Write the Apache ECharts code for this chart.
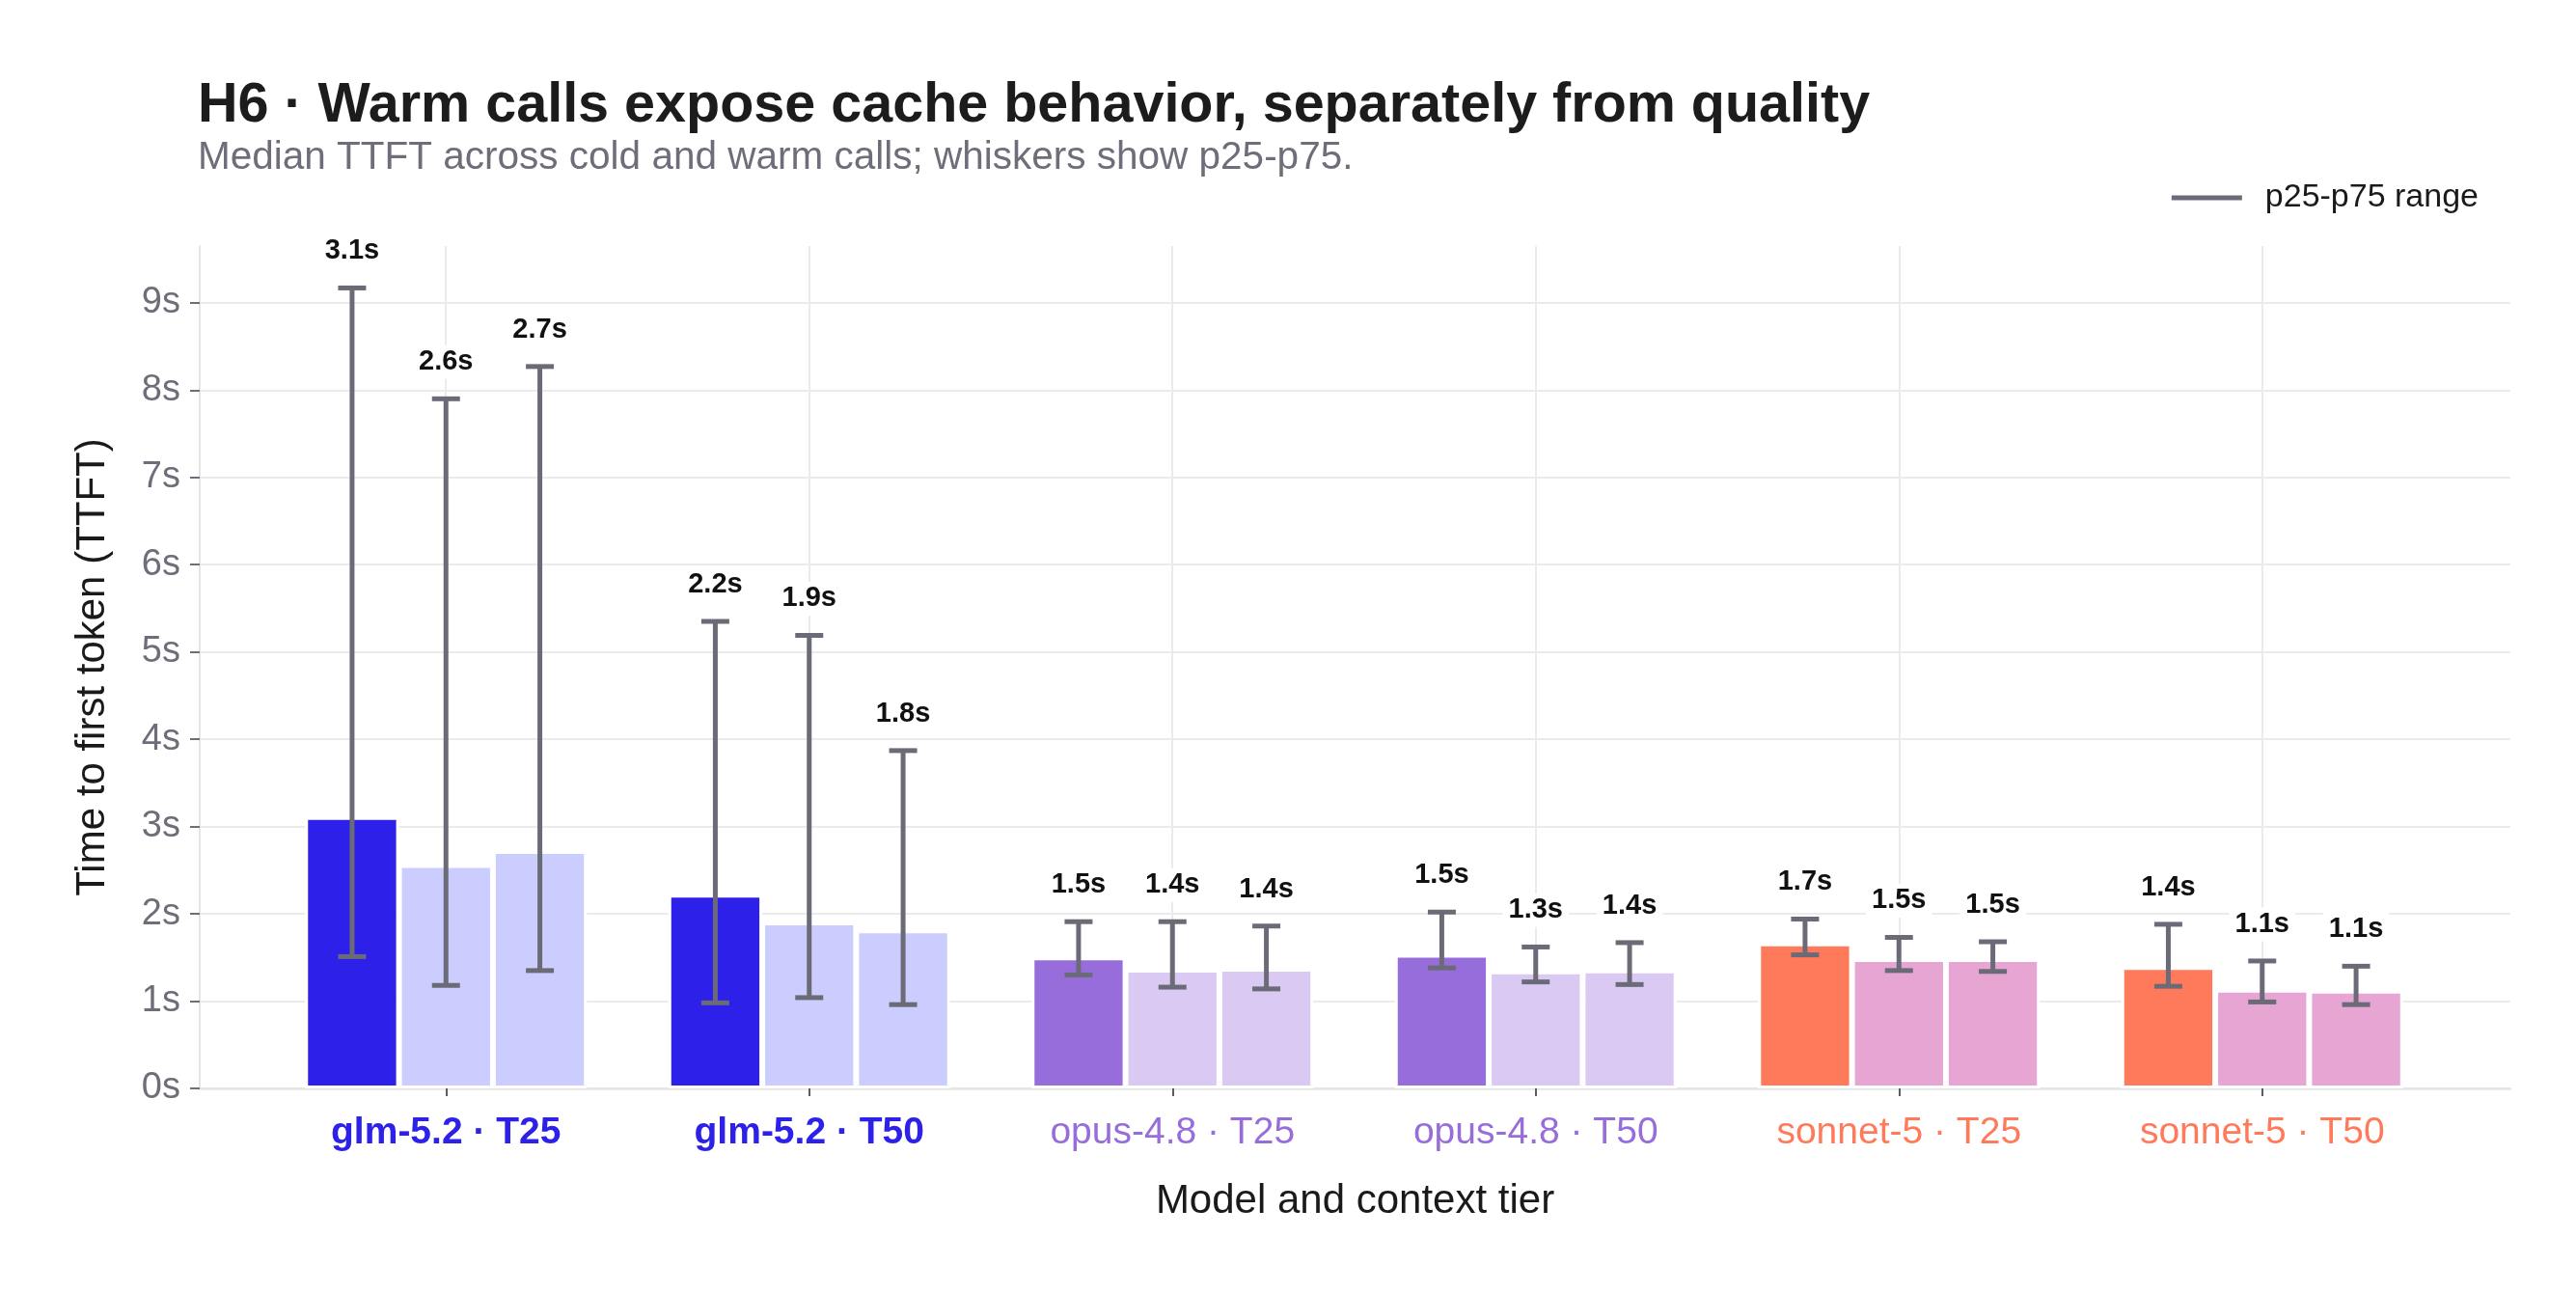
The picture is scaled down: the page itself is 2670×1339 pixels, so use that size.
<!DOCTYPE html>
<html lang="en">
<head>
  <meta charset="UTF-8">
  <title>H6 · Warm calls expose cache behavior</title>
  <script src="https://cdn.jsdelivr.net/npm/echarts@6.0.0/dist/echarts.min.js"></script>
  <style>
    html, body { margin: 0; padding: 0; background: #fff; }
    #chart { width: 2670px; height: 1339px; }
  </style>
</head>
<body>
  <div id="chart"></div>
  <script>
    // categories: model · context tier
    var categories = ['glm-5.2 · T25', 'glm-5.2 · T50', 'opus-4.8 · T25', 'opus-4.8 · T50', 'sonnet-5 · T25', 'sonnet-5 · T50']
    var categoryModel = ['glm', 'glm', 'opus', 'opus', 'sonnet', 'sonnet']

    // median TTFT (s) per call: cold, warm 1, warm 2
    var coldMedian = [3.11, 2.22, 1.50, 1.53, 1.66, 1.39]
    var warm1Median = [2.56, 1.90, 1.36, 1.34, 1.48, 1.13]
    var warm2Median = [2.72, 1.81, 1.37, 1.352, 1.48, 1.12]

    // p25 / p75 whiskers
    var coldP25 = [1.51, 0.98, 1.30, 1.38, 1.53, 1.17]
    var coldP75 = [9.17, 5.35, 1.91, 2.02, 1.94, 1.88]
    var warm1P25 = [1.18, 1.04, 1.16, 1.22, 1.35, 0.99]
    var warm1P75 = [7.90, 5.19, 1.91, 1.62, 1.73, 1.46]
    var warm2P25 = [1.35, 0.96, 1.14, 1.19, 1.34, 0.96]
    var warm2P75 = [8.27, 3.87, 1.86, 1.67, 1.68, 1.40]

    var yTicks = [0, 1, 2, 3, 4, 5, 6, 7, 8, 9]

    var modelColors = {
      glm: { cold: '#2d20e9', warm: '#cacdfd' },
      opus: { cold: '#976ddb', warm: '#dacaf3' },
      sonnet: { cold: '#ff7a5a', warm: '#e6a5d3' }
    }

    var FONT = '"Liberation Sans", Arial, Helvetica, sans-serif'
    var GRAY = '#6e6e7a'
    var WHISKER = '#6b6b77'
    var GRID_LINE = '#ebebeb'
    var BAR_FRAC = 0.2585
    var RANGE_NAME = 'p25-p75 range'

    var medians = [coldMedian, warm1Median, warm2Median]
    var p25s = [coldP25, warm1P25, warm2P25]
    var p75s = [coldP75, warm1P75, warm2P75]

    function barData(values, kind) {
      return values.map(function (v, i) {
        return { value: v, itemStyle: { color: modelColors[categoryModel[i]][kind] } }
      })
    }

    // [category, slot, p25, p75, median]
    var whiskerData = []
    for (var s = 0; s < 3; s++) {
      for (var i = 0; i < categories.length; i++) {
        whiskerData.push([i, s, p25s[s][i], p75s[s][i], medians[s][i]])
      }
    }

    function renderWhisker(params, api) {
      var band = api.size([1, 0])[0]
      var cat = api.value(0)
      var x = api.coord([cat, 0])[0] + (api.value(1) - 1) * band * BAR_FRAC
      var lo = api.coord([cat, api.value(2)])[1]
      var hi = api.coord([cat, api.value(3)])[1]
      var capHalf = 14.5
      var lineStyle = { stroke: WHISKER, lineWidth: 5 }
      return {
        type: 'group',
        children: [
          { type: 'line', shape: { x1: x, y1: lo, x2: x, y2: hi }, style: lineStyle },
          { type: 'line', shape: { x1: x - capHalf, y1: hi, x2: x + capHalf, y2: hi }, style: lineStyle },
          { type: 'line', shape: { x1: x - capHalf, y1: lo, x2: x + capHalf, y2: lo }, style: lineStyle },
          {
            type: 'text',
            z2: 10,
            style: {
              text: api.value(4).toFixed(1) + 's',
              x: x,
              y: hi - 38,
              align: 'center',
              verticalAlign: 'middle',
              font: 'bold 29px ' + FONT,
              fill: '#111111',
              backgroundColor: '#ffffff',
              padding: [3, 6]
            }
          }
        ]
      }
    }

    var mCharts = echarts.init(document.getElementById('chart'), null, { renderer: 'canvas' })

    var option = {
      backgroundColor: '#ffffff',
      animation: false,
      textStyle: { fontFamily: FONT },
      title: {
        text: 'H6 · Warm calls expose cache behavior, separately from quality',
        subtext: 'Median TTFT across cold and warm calls; whiskers show p25-p75.',
        left: 205,
        top: 80,
        itemGap: 3,
        padding: 0,
        textStyle: { fontFamily: FONT, fontSize: 57.5, fontWeight: 'bold', color: '#1c1c1c', lineHeight: 60 },
        subtextStyle: { fontFamily: FONT, fontSize: 40.5, color: GRAY, lineHeight: 42 }
      },
      legend: {
        data: [{ name: RANGE_NAME, icon: 'rect' }],
        right: 101,
        top: 188,
        padding: 0,
        itemWidth: 73,
        itemHeight: 5,
        selectedMode: false,
        textStyle: { fontFamily: FONT, fontSize: 34, color: '#1a1a1a', padding: [0, 0, 0, 19] }
      },
      grid: [
        { left: 207, right: 68, top: 255, bottom: 211 }, // frame, y axis, horizontal grid
        { left: 274, right: 137, top: 255, bottom: 211 }, // bars
        { left: 462, right: 325, top: 255, bottom: 211 } // vertical grid at category centers
      ],
      xAxis: [
        {
          gridIndex: 0,
          type: 'value',
          min: 0,
          max: 1,
          axisLine: { show: true, lineStyle: { color: '#e5e5e5', width: 2.5 } },
          axisTick: { show: false },
          axisLabel: { show: false },
          splitLine: { show: false },
          name: 'Model and context tier',
          nameLocation: 'middle',
          nameGap: 96,
          nameTextStyle: { fontFamily: FONT, fontSize: 42, color: '#1a1a1a', lineHeight: 42 }
        },
        {
          gridIndex: 1,
          type: 'category',
          data: categories,
          axisLine: { show: false },
          axisTick: { show: true, alignWithLabel: true, length: 8, lineStyle: { color: '#5c5b67', width: 2 } },
          axisLabel: {
            interval: 0,
            margin: 27,
            formatter: function (v, i) {
              return '{' + categoryModel[i] + '|' + v + '}'
            },
            rich: {
              glm: { fontFamily: FONT, fontSize: 39, lineHeight: 39, fontWeight: 'bold', color: modelColors.glm.cold },
              opus: { fontFamily: FONT, fontSize: 39, lineHeight: 39, color: modelColors.opus.cold },
              sonnet: { fontFamily: FONT, fontSize: 39, lineHeight: 39, color: modelColors.sonnet.cold }
            }
          },
          splitLine: { show: false }
        },
        {
          gridIndex: 2,
          type: 'category',
          boundaryGap: false,
          data: categories,
          axisLine: { show: false },
          axisTick: { show: false },
          axisLabel: { show: false, interval: 0 },
          splitLine: { show: true, interval: 0, lineStyle: { color: GRID_LINE, width: 2 } }
        }
      ],
      yAxis: [
        {
          gridIndex: 0,
          type: 'value',
          min: 0,
          max: 9.65,
          interval: 1,
          axisLine: { show: true, lineStyle: { color: '#e5e5e5', width: 2 } },
          axisTick: { show: true, length: 10, customValues: yTicks, lineStyle: { color: GRAY, width: 2 } },
          axisLabel: {
            margin: 20,
            fontFamily: FONT,
            fontSize: 38,
            color: GRAY,
            customValues: yTicks,
            formatter: function (v) { return v + 's' }
          },
          splitLine: { show: true, lineStyle: { color: GRID_LINE, width: 2 } },
          name: 'Time to first token (TTFT)',
          nameLocation: 'middle',
          nameGap: 90,
          nameTextStyle: { fontFamily: FONT, fontSize: 42, color: '#1a1a1a', lineHeight: 42 }
        },
        { gridIndex: 1, type: 'value', min: 0, max: 9.65, show: false },
        { gridIndex: 2, type: 'value', min: 0, max: 9.65, show: false }
      ],
      series: [
        {
          name: 'Cold',
          type: 'bar',
          xAxisIndex: 1,
          yAxisIndex: 1,
          barWidth: (BAR_FRAC * 100) + '%',
          barGap: '0%',
          itemStyle: { borderColor: '#ffffff', borderWidth: 3 },
          data: barData(coldMedian, 'cold')
        },
        {
          name: 'Warm 1',
          type: 'bar',
          xAxisIndex: 1,
          yAxisIndex: 1,
          barWidth: (BAR_FRAC * 100) + '%',
          barGap: '0%',
          itemStyle: { borderColor: '#ffffff', borderWidth: 3 },
          data: barData(warm1Median, 'warm')
        },
        {
          name: 'Warm 2',
          type: 'bar',
          xAxisIndex: 1,
          yAxisIndex: 1,
          barWidth: (BAR_FRAC * 100) + '%',
          barGap: '0%',
          itemStyle: { borderColor: '#ffffff', borderWidth: 3 },
          data: barData(warm2Median, 'warm')
        },
        {
          name: RANGE_NAME,
          type: 'custom',
          xAxisIndex: 1,
          yAxisIndex: 1,
          z: 5,
          clip: false,
          itemStyle: { color: WHISKER },
          renderItem: renderWhisker,
          encode: { x: 0, y: [2, 3] },
          data: whiskerData
        }
      ]
    }

    mCharts.setOption(option)
  </script>
</body>
</html>
